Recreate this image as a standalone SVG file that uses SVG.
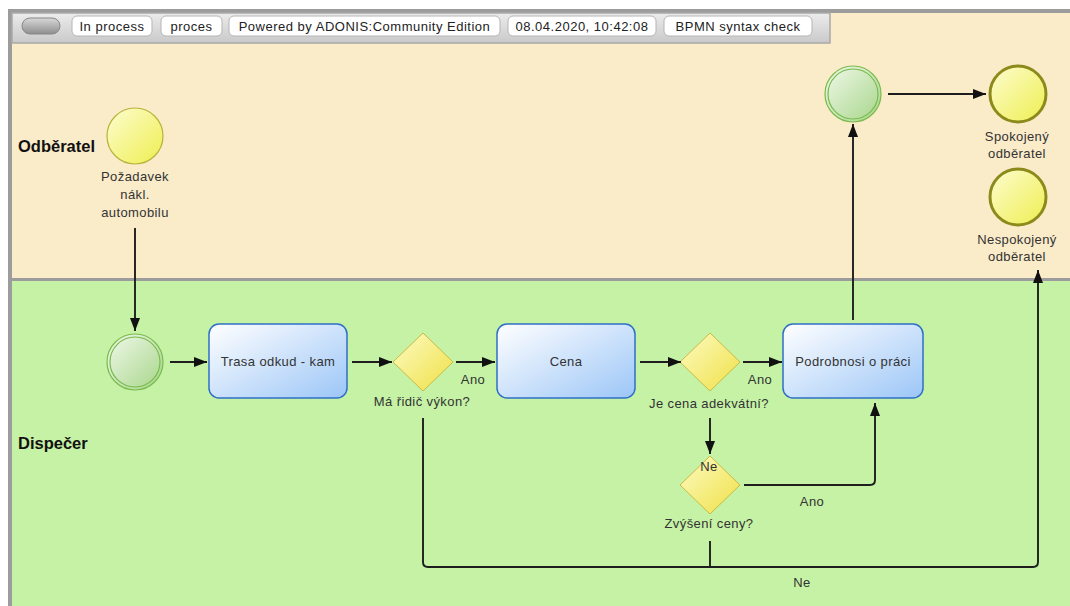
<svg xmlns="http://www.w3.org/2000/svg" width="1070" height="606" viewBox="0 0 1070 606">
<style>
text{font-family:"Liberation Sans",Arial,sans-serif;fill:#333}
.lbl{font-size:13px;letter-spacing:0.4px;text-anchor:middle}
.tl{font-size:13px;letter-spacing:0.4px;text-anchor:middle}
.lane{font-size:16.5px;font-weight:bold;fill:#111}
.btn{fill:#fff;stroke:#b5b5b5;stroke-width:1}
.btxt{font-size:13px;letter-spacing:0.5px;text-anchor:middle;fill:#222}
.task{fill:url(#gTask);stroke:#2f6fc6;stroke-width:1.5}
.gw{fill:url(#gGw);stroke:#c9bb45;stroke-width:1}
.conn{fill:none;stroke:#1e1e1e;stroke-width:1.9;stroke-linejoin:round}
.arr{marker-end:url(#ah)}
</style>
<defs>
<linearGradient id="gTask" x1="0" y1="0" x2="1" y2="1"><stop offset="0" stop-color="#ffffff"/><stop offset="1" stop-color="#9cc6f7"/></linearGradient>
<linearGradient id="gGw" x1="0" y1="0" x2="1" y2="1"><stop offset="0" stop-color="#fdfbc4"/><stop offset="1" stop-color="#efe045"/></linearGradient>
<linearGradient id="gY" x1="0" y1="0" x2="1" y2="1"><stop offset="0" stop-color="#fdfdd0"/><stop offset="1" stop-color="#eeee50"/></linearGradient>
<linearGradient id="gG" x1="0" y1="0" x2="1" y2="1"><stop offset="0" stop-color="#f2f9ec"/><stop offset="1" stop-color="#a5d587"/></linearGradient>
<linearGradient id="gBar" x1="0" y1="0" x2="0" y2="1"><stop offset="0" stop-color="#ececec"/><stop offset="1" stop-color="#c9c9c9"/></linearGradient>
<linearGradient id="gOval" x1="0" y1="0" x2="0" y2="1"><stop offset="0" stop-color="#d8d8d8"/><stop offset="1" stop-color="#8e8e8e"/></linearGradient>
<marker id="ah" markerUnits="userSpaceOnUse" markerWidth="14" markerHeight="12" refX="13" refY="5" orient="auto"><path d="M0,0 L13,5 L0,10 z" fill="#111"/></marker>
</defs>
<rect x="0" y="0" width="1070" height="606" fill="#fff"/>
<!-- lanes -->
<g id="lane-odberatel">
<rect x="12" y="13" width="1058" height="265" fill="#faebc9"/>
<text class="lane" x="18" y="152">Odběratel</text>
</g>
<g id="lane-dispecer">
<rect x="12" y="281" width="1058" height="325" fill="#c5f2a5"/>
<text class="lane" x="18" y="449">Dispečer</text>
</g>
<rect x="12" y="278" width="1058" height="3" fill="#9c9c9c"/>
<rect x="8" y="9" width="1062" height="4" fill="#9c9c9c"/>
<rect x="8" y="9" width="4" height="597" fill="#9c9c9c"/>
<!-- toolbar -->
<g id="toolbar">
<rect x="12" y="13" width="818" height="30" fill="url(#gBar)" stroke="#a9a9a9" stroke-width="1.5"/>
<rect x="22" y="18" width="38" height="16" rx="8" fill="url(#gOval)" stroke="#888" stroke-width="1"/>
<rect class="btn" x="72" y="16" width="80" height="20" rx="5"/>
<text class="btxt" x="112" y="30.5">In process</text>
<rect class="btn" x="161" y="16" width="61" height="20" rx="5"/>
<text class="btxt" x="191.5" y="30.5">proces</text>
<rect class="btn" x="229" y="16" width="271" height="20" rx="5"/>
<text class="btxt" x="364.5" y="30.5">Powered by ADONIS:Community Edition</text>
<rect class="btn" x="508" y="16" width="148" height="20" rx="5"/>
<text class="btxt" x="582" y="30.5">08.04.2020, 10:42:08</text>
<rect class="btn" x="664" y="16" width="148" height="20" rx="5"/>
<text class="btxt" x="738" y="30.5">BPMN syntax check</text>
</g>
<!-- nodes -->
<g id="start-pozadavek">
<circle cx="135" cy="136" r="28" fill="url(#gY)" stroke="#b6b33a" stroke-width="1.2"/>
<text class="lbl" x="135" y="181">Požadavek</text>
<text class="lbl" x="135" y="199">nákl.</text>
<text class="lbl" x="135" y="217">automobilu</text>
</g>
<g id="int-start">
<circle cx="135" cy="362" r="28" fill="url(#gG)" stroke="#79bb4d" stroke-width="1.2"/>
<circle cx="135" cy="362" r="25" fill="none" stroke="#79bb4d" stroke-width="1.2"/>
</g>
<g id="task-trasa">
<rect class="task" x="209" y="324" width="138" height="74" rx="10"/>
<text class="tl" x="278" y="366">Trasa odkud - kam</text>
</g>
<g id="gw-ridic">
<path class="gw" d="M423,333 L453,362 L423,391 L393,362 z"/>
<text class="lbl" x="422" y="406">Má řidič výkon?</text>
</g>
<g id="task-cena">
<rect class="task" x="497" y="324" width="138" height="74" rx="10"/>
<text class="tl" x="566" y="366">Cena</text>
</g>
<g id="gw-cena">
<path class="gw" d="M710,333 L740,362 L710,391 L680,362 z"/>
<text class="lbl" x="709" y="408">Je cena adekvátní?</text>
</g>
<g id="task-podrobnosti">
<rect class="task" x="783" y="324" width="140" height="74" rx="10"/>
<text class="tl" x="853" y="366">Podrobnosi o práci</text>
</g>
<g id="gw-zvyseni">
<path class="gw" d="M710,456 L740,485 L710,514 L680,485 z"/>
<text class="lbl" x="709" y="528">Zvýšení ceny?</text>
</g>
<g id="int-top">
<circle cx="853" cy="94" r="28" fill="url(#gG)" stroke="#79bb4d" stroke-width="1.2"/>
<circle cx="853" cy="94" r="25" fill="none" stroke="#79bb4d" stroke-width="1.2"/>
</g>
<g id="end-spokojeny">
<circle cx="1018" cy="94" r="28" fill="url(#gY)" stroke="#8d8a1c" stroke-width="3"/>
<text class="lbl" x="1017" y="141">Spokojený</text>
<text class="lbl" x="1017" y="158">odběratel</text>
</g>
<g id="end-nespokojeny">
<circle cx="1018" cy="197" r="28" fill="url(#gY)" stroke="#8d8a1c" stroke-width="3"/>
<text class="lbl" x="1017" y="244">Nespokojený</text>
<text class="lbl" x="1017" y="261">odběratel</text>
</g>
<!-- connectors -->
<g id="connectors">
<path class="conn arr" d="M135,228 V331"/>
<path class="conn arr" d="M170,362 H207"/>
<path class="conn arr" d="M352,362 H392"/>
<path class="conn arr" d="M456,362 H495"/>
<path class="conn arr" d="M640,362 H681"/>
<path class="conn arr" d="M743,362 H782"/>
<path class="conn arr" d="M710,418 V454"/>
<path class="conn arr" d="M744,485 H870 Q875,485 875,480 V403"/>
<path class="conn arr" d="M423,418 V562 Q423,567 428,567 H1033 Q1038,567 1038,562 V270"/>
<path class="conn" d="M710,541 V567"/>
<path class="conn arr" d="M853,320 V124"/>
<path class="conn arr" d="M888,94 H986"/>
<text class="lbl" x="473" y="384">Ano</text>
<text class="lbl" x="760" y="384">Ano</text>
<text class="lbl" x="709" y="471">Ne</text>
<text class="lbl" x="812" y="506">Ano</text>
<text class="lbl" x="802" y="587">Ne</text>
</g>
</svg>
